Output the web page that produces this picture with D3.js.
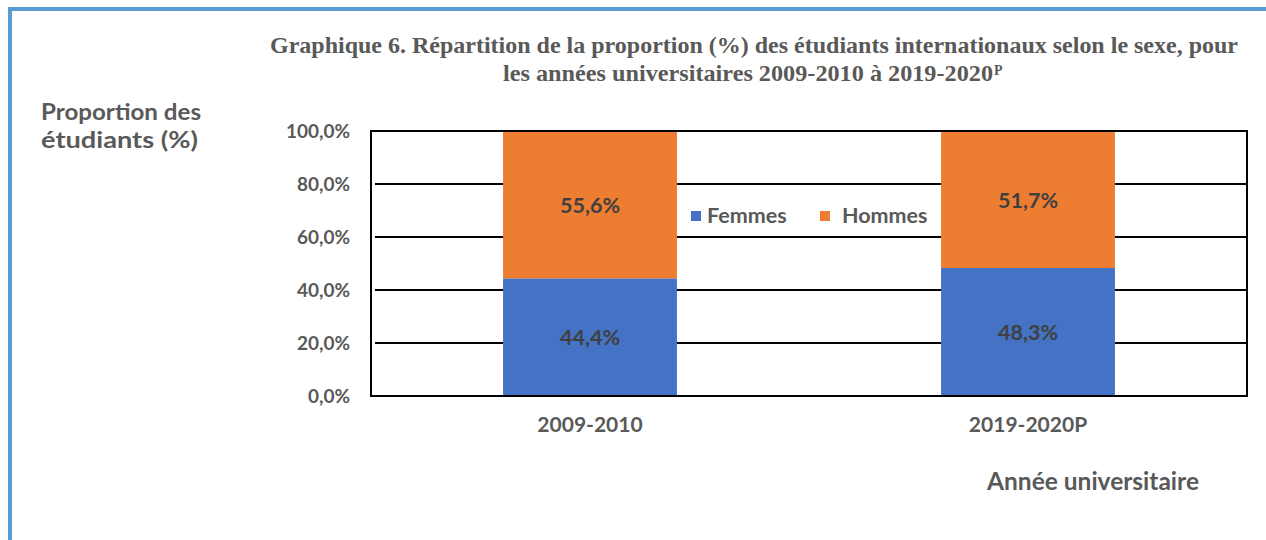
<!DOCTYPE html>
<html lang="fr">
<head>
<meta charset="UTF-8">
<title>Graphique 6</title>
<script src="https://d3js.org/d3.v7.min.js"></script>
<style>
  html, body { margin: 0; padding: 0; background: #fff; }
  svg { display: block; }
</style>
</head>
<body>
<div id="chart"></div>
<script>
// data
const years = ["2009-2010", "2019-2020P"];
const femmes = [44.4, 48.3];
const hommes = [55.6, 51.7];
const seriesNames = ["Femmes", "Hommes"];
const seriesColors = ["#4472C4", "#ED7D31"];
const yTicks = [0, 20, 40, 60, 80, 100];

const W = 1266, H = 540;
const margin = {top: 131, right: 19, bottom: 144, left: 371};
const width = W - margin.left - margin.right,
      height = H - margin.top - margin.bottom;
const sans = "Lato, 'Open Sans', sans-serif";

const svg = d3.select("#chart").append("svg")
    .attr("width", W)
    .attr("height", H);

// frame lines (blue, top and left)
svg.append("rect").attr("x", 8).attr("y", 7).attr("width", W - 8).attr("height", 4).attr("fill", "#5B9BD5");
svg.append("rect").attr("x", 8).attr("y", 7).attr("width", 4).attr("height", H - 7).attr("fill", "#5B9BD5");

// title
const title = svg.append("g")
    .attr("font-family", "'Liberation Serif', 'Times New Roman', serif")
    .attr("font-weight", "bold")
    .attr("font-size", 23)
    .attr("fill", "#595959");
title.append("text")
    .attr("x", 270).attr("y", 53)
    .attr("textLength", 968).attr("lengthAdjust", "spacingAndGlyphs")
    .text("Graphique  6. Répartition de la proportion  (%) des étudiants  internationaux  selon le sexe, pour");
title.append("text")
    .attr("x", 503).attr("y", 81)
    .attr("textLength", 490).attr("lengthAdjust", "spacingAndGlyphs")
    .text("les années universitaires  2009-2010 à 2019-2020");
title.append("text")
    .attr("x", 994).attr("y", 75)
    .attr("font-size", 14)
    .text("P");

const g = svg.append("g")
    .attr("transform", "translate(" + margin.left + "," + margin.top + ")");

const x = d3.scaleBand().domain(years).range([0, width])
    .paddingInner(0.603).paddingOuter(0.3015);
const y = d3.scaleLinear().domain([0, 100]).range([height, 0]);

// gridlines
g.selectAll(".grid")
  .data(yTicks.filter(d => d > 0))
  .enter().append("line")
    .attr("x1", 4).attr("x2", width)
    .attr("y1", d => y(d)).attr("y2", d => y(d))
    .attr("stroke", "#000").attr("stroke-width", 2);

// stacked bars
const rows = years.map((yr, i) => ({year: yr, Femmes: femmes[i], Hommes: hommes[i]}));
const stack = d3.stack().keys(seriesNames)(rows);

const layers = g.selectAll(".layer")
  .data(stack)
  .enter().append("g")
    .attr("fill", (d, i) => seriesColors[i]);

layers.selectAll("rect")
  .data(d => d)
  .enter().append("rect")
    .attr("x", d => x(d.data.year))
    .attr("y", d => y(d[1]))
    .attr("width", x.bandwidth())
    .attr("height", d => y(d[0]) - y(d[1]));

layers.selectAll("text")
  .data(d => d)
  .enter().append("text")
    .attr("x", d => x(d.data.year) + x.bandwidth() / 2)
    .attr("y", d => y((d[0] + d[1]) / 2) + 8)
    .attr("text-anchor", "middle")
    .attr("font-family", sans)
    .attr("font-weight", "bold")
    .attr("font-size", 21.5)
    .attr("fill", "#404040")
    .text(d => (d[1] - d[0]).toFixed(1).replace(".", ",") + "%");

// plot border
g.append("rect")
    .attr("x", 0).attr("y", 0)
    .attr("width", width).attr("height", height)
    .attr("fill", "none").attr("stroke", "#000").attr("stroke-width", 2);

// y axis
const yAxis = g.append("g")
    .call(d3.axisLeft(y).tickValues(yTicks).tickSize(0).tickPadding(21)
      .tickFormat(d => d.toFixed(1).replace(".", ",") + "%"));
yAxis.select(".domain").remove();
yAxis.selectAll("text")
    .attr("font-family", sans)
    .attr("font-weight", "bold")
    .attr("font-size", 19)
    .attr("fill", "#595959");

// x axis
const xAxis = g.append("g")
    .attr("transform", "translate(0," + height + ")")
    .call(d3.axisBottom(x).tickSize(0).tickPadding(21));
xAxis.select(".domain").remove();
xAxis.selectAll("text")
    .attr("font-family", sans)
    .attr("font-weight", "bold")
    .attr("font-size", 21)
    .attr("fill", "#595959");

// legend
const legend = svg.append("g")
    .attr("font-family", sans)
    .attr("font-weight", "bold")
    .attr("font-size", 21.5)
    .attr("fill", "#595959");
const legendX = [691, 820];
const legendTextX = [707, 842];
seriesNames.forEach((name, i) => {
  legend.append("rect")
      .attr("x", legendX[i]).attr("y", 211)
      .attr("width", 10).attr("height", 10)
      .attr("fill", seriesColors[i]);
  legend.append("text")
      .attr("x", legendTextX[i]).attr("y", 223)
      .text(name);
});

// axis titles
const axisTitle = svg.append("g")
    .attr("font-family", sans)
    .attr("font-weight", "bold")
    .attr("font-size", 23)
    .attr("fill", "#595959");
axisTitle.append("text").attr("x", 41).attr("y", 120)
    .attr("textLength", 160).attr("lengthAdjust", "spacingAndGlyphs")
    .text("Proportion des");
axisTitle.append("text").attr("x", 41).attr("y", 148)
    .attr("textLength", 157).attr("lengthAdjust", "spacingAndGlyphs")
    .text("étudiants (%)");
axisTitle.append("text").attr("x", 987).attr("y", 490).attr("font-size", 24.5).text("Année universitaire");
</script>
</body>
</html>
